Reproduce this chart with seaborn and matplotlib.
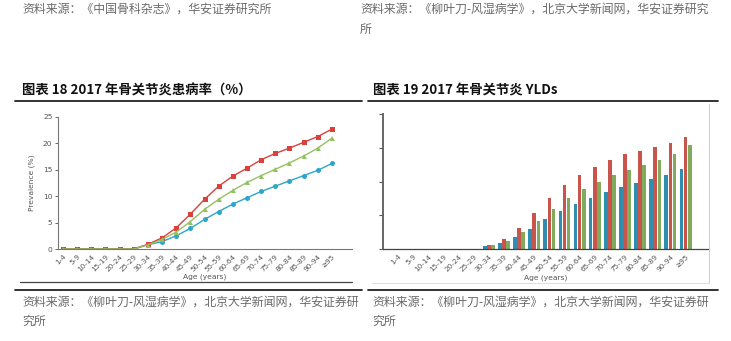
import numpy as np
import pandas as pd
import matplotlib
matplotlib.use("Agg")
import matplotlib.pyplot as plt
from matplotlib.lines import Line2D
import seaborn as sns

# ---------------- data ----------------
ages = ["1-4", "5-9", "10-14", "15-19", "20-24", "25-29", "30-34", "35-39", "40-44",
        "45-49", "50-54", "55-59", "60-64", "65-69", "70-74", "75-79", "80-84",
        "85-89", "90-94", "≥95"]
# left chart: prevalence (%)
prev_red = [0, 0, 0, 0, 0, 0, 0.9, 2.1, 4.0, 6.6, 9.4, 11.9, 13.8, 15.3, 16.9, 18.1, 19.1, 20.2, 21.3, 22.7]
prev_green = [0, 0, 0, 0, 0, 0, 0.8, 1.8, 3.2, 5.2, 7.5, 9.4, 11.1, 12.6, 13.9, 15.1, 16.3, 17.6, 19.1, 21.0]
prev_blue = [0, 0, 0, 0, 0, 0, 0.8, 1.4, 2.5, 3.9, 5.6, 7.1, 8.5, 9.7, 10.9, 11.9, 12.9, 13.9, 14.9, 16.2]
prev_ticks = [0, 5, 10, 15, 20, 25]
# right chart: YLDs (unlabelled axis, relative units)
yld_blue = [0, 0, 0, 0, 0, 0, 0.10, 0.20, 0.37, 0.61, 0.89, 1.13, 1.34, 1.53, 1.70, 1.84, 1.97, 2.09, 2.21, 2.38]
yld_red = [0, 0, 0, 0, 0, 0, 0.13, 0.30, 0.64, 1.06, 1.52, 1.90, 2.21, 2.44, 2.64, 2.81, 2.91, 3.03, 3.14, 3.32]
yld_green = [0, 0, 0, 0, 0, 0, 0.12, 0.25, 0.50, 0.84, 1.20, 1.52, 1.78, 1.99, 2.19, 2.35, 2.49, 2.64, 2.83, 3.07]

title_left = "图表 18 2017 年骨关节炎患病率（%）"
title_right = "图表 19 2017 年骨关节炎 YLDs"
src_top_left = "资料来源：《中国骨科杂志》，华安证券研究所"
src_top_right = ["资料来源：《柳叶刀-风湿病学》，北京大学新闻网，华安证券研究", "所"]
src_bottom = ["资料来源：《柳叶刀-风湿病学》，北京大学新闻网，华安证券研", "究所"]

# ---------------- style ----------------
sns.set_theme(style="white")
plt.rcParams['font.family'] = ['Noto Sans CJK SC', 'DejaVu Sans']

W, H = 731, 341
fig = plt.figure(figsize=(W / 100, H / 100), dpi=100)
fig.patch.set_facecolor("white")


def fx(px):
    return px / W


def fy(py):
    return 1 - py / H


def hline(x0, x1, y, lw=1.0, color="#333333"):
    fig.add_artist(Line2D([fx(x0), fx(x1)], [fy(y), fy(y)], lw=lw, color=color,
                          transform=fig.transFigure))


def vline(x, y0, y1, lw=1.0, color="#333333"):
    fig.add_artist(Line2D([fx(x), fx(x)], [fy(y0), fy(y1)], lw=lw, color=color,
                          transform=fig.transFigure))


grey_txt = "#6a6a6a"
src_fs = 8.6
# top source texts
fig.text(fx(22), fy(9), src_top_left, fontsize=src_fs, color=grey_txt, va="center", ha="left")
fig.text(fx(360), fy(9), src_top_right[0], fontsize=src_fs, color=grey_txt, va="center", ha="left")
fig.text(fx(360), fy(29), src_top_right[1], fontsize=src_fs, color=grey_txt, va="center", ha="left")

# titles
fig.text(fx(22), fy(90), title_left, fontsize=9.6, fontweight="bold", color="#111111",
         va="center", ha="left")
fig.text(fx(373), fy(90), title_right, fontsize=9.6, fontweight="bold", color="#111111",
         va="center", ha="left")
hline(15, 362, 100.5, lw=1.3, color="#222222")
hline(368, 718, 100.5, lw=1.3, color="#222222")

# bottom separators and sources
hline(15, 362, 290, lw=1.3, color="#222222")
hline(368, 718, 290, lw=1.3, color="#222222")
fig.text(fx(22), fy(302), src_bottom[0], fontsize=src_fs, color=grey_txt, va="center", ha="left")
fig.text(fx(22), fy(321), src_bottom[1], fontsize=src_fs, color=grey_txt, va="center", ha="left")
fig.text(fx(372), fy(302), src_bottom[0], fontsize=src_fs, color=grey_txt, va="center", ha="left")
fig.text(fx(372), fy(321), src_bottom[1], fontsize=src_fs, color=grey_txt, va="center", ha="left")

# chart image frames
hline(20, 352, 282, lw=0.9, color="#444444")
vline(709, 104, 283, lw=0.7, color="#cccccc")
hline(372, 709, 283, lw=0.7, color="#dddddd")

tick_col = "#555555"
n = len(ages)
pos = np.arange(n)

# ---------------- left chart ----------------
axL = fig.add_axes([fx(58), fy(249), fx(352) - fx(58), fy(117) - fy(249)])
df = pd.DataFrame({
    "pos": np.concatenate([pos, pos, pos]),
    "val": prev_blue + prev_red + prev_green,
    "series": ["blue"] * n + ["red"] * n + ["green"] * n,
})
pal = {"blue": "#2ea6c8", "red": "#d9413c", "green": "#95c062"}
sns.lineplot(data=df, x="pos", y="val", hue="series", style="series", palette=pal,
             markers={"blue": "o", "red": "s", "green": "^"}, dashes=False,
             markersize=3.6, linewidth=1.0, markeredgewidth=0, legend=False, ax=axL,
             hue_order=["blue", "red", "green"])
axL.set_xlim(-0.35, 20.42)
axL.set_ylim(0, 25)
axL.set_yticks(prev_ticks)
axL.set_yticklabels([str(t) for t in prev_ticks], fontsize=5.4, color=tick_col,
                    family="DejaVu Sans")
axL.set_xticks(pos)
axL.set_xticklabels(ages, rotation=45, ha="right", rotation_mode="anchor",
                    fontsize=5.2, color=tick_col, family="DejaVu Sans")
axL.set_xticks(pos[:-1] + 0.5, minor=True)
axL.tick_params(axis="x", which="major", length=0, pad=3)
axL.tick_params(axis="x", which="minor", length=2.5, width=0.7, color="#666666", direction="out")
axL.tick_params(axis="y", length=2.5, width=0.7, color="#666666", direction="out", pad=1.5, left=True)
for s in ["top", "right"]:
    axL.spines[s].set_visible(False)
for s in ["left", "bottom"]:
    axL.spines[s].set_color("#777777")
    axL.spines[s].set_linewidth(0.8)
axL.set_xlabel("Age (years)", fontsize=5.4, color=tick_col, family="DejaVu Sans", labelpad=1)
axL.set_ylabel("Prevalence (%)", fontsize=5.4, color=tick_col, family="DejaVu Sans", labelpad=6)
axL.patch.set_alpha(0)

# ---------------- right chart ----------------
axR = fig.add_axes([fx(383), fy(249.3), fx(709) - fx(383), fy(114) - fy(249.3)])
dfb = pd.DataFrame({
    "age": ages * 3,
    "val": yld_blue + yld_red + yld_green,
    "series": ["blue"] * n + ["red"] * n + ["green"] * n,
})
palb = {"blue": "#2f8db0", "red": "#c9544b", "green": "#80aa5c"}
sns.barplot(data=dfb, x="age", y="val", hue="series", order=ages,
            hue_order=["blue", "red", "green"], palette=palb, width=0.82, gap=0.12,
            legend=False, ax=axR, saturation=1, errorbar=None, linewidth=0,
            edgecolor="none")
axR.set_xlim(-1.0, 20.55)
axR.set_ylim(0, 4)
axR.set_yticks([0, 1, 2, 3, 4])
axR.set_yticklabels([])
axR.set_xticks(pos)
axR.set_xticklabels(ages, rotation=45, ha="right", rotation_mode="anchor",
                    fontsize=5.2, color=tick_col, family="DejaVu Sans")
axR.set_xticks(np.arange(-0.5, 20.5, 1.0), minor=True)
axR.tick_params(axis="x", which="major", length=0, pad=3)
axR.tick_params(axis="x", which="minor", length=2.5, width=0.8, color="#555555", direction="out")
axR.tick_params(axis="y", length=3, width=0.8, color="#555555", direction="out", left=True)
for s in ["top", "right"]:
    axR.spines[s].set_visible(False)
axR.spines["left"].set_color("#666666")
axR.spines["left"].set_linewidth(1.4)
axR.spines["bottom"].set_color("#444444")
axR.spines["bottom"].set_linewidth(0.9)
axR.set_xlabel("Age (years)", fontsize=5.4, color=tick_col, family="DejaVu Sans", labelpad=1)
axR.set_ylabel("")
axR.patch.set_alpha(0)

fig.savefig("out.png", dpi=100, facecolor="white")
